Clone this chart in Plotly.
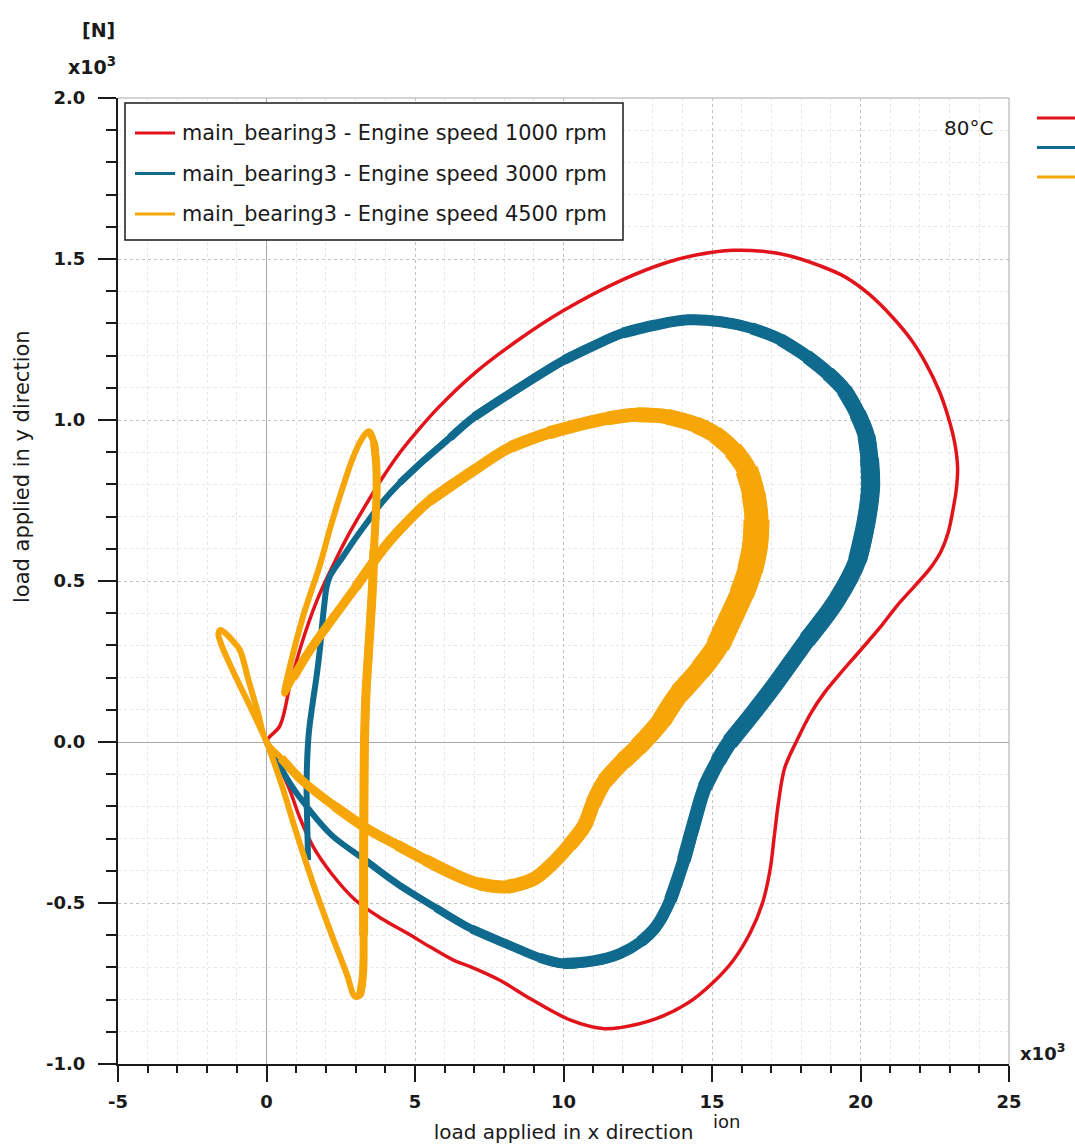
import plotly.graph_objects as go

# Load orbit of main bearing 3 at 80 degC, both axes in units of 10^3 N
red_x = [0, 0.45, 0.8, 1.2, 1.7, 2.3, 2.8, 3.4, 3.9, 4.5, 5.1, 5.8, 7.0, 8.5, 10.0, 12.0, 13.5, 14.5,
         15.7, 16.7, 17.6, 18.6, 19.45, 20.3, 21.07, 21.7, 22.2, 22.65, 22.95, 23.17, 23.27, 23.22,
         23.15, 22.95, 22.7, 22.35, 21.8, 21.2, 20.68, 20.0, 19.32, 18.8, 18.33, 17.86, 17.45,
         17.25, 17.1, 16.95, 16.7, 16.3, 15.7, 15.0, 14.2, 13.1, 11.9, 11.31, 10.24, 8.93, 7.86,
         6.9, 6.31, 5.5, 4.76, 3.9, 2.98, 2.2, 1.57, 1.1, 0.785, 0.4, 0]
red_y = [0, 0.05, 0.18, 0.31, 0.44, 0.56, 0.65, 0.745, 0.82, 0.9, 0.968, 1.04, 1.145, 1.25, 1.34,
         1.436, 1.49, 1.513, 1.527, 1.524, 1.51, 1.48, 1.446, 1.39, 1.32, 1.25, 1.176, 1.09, 1.01,
         0.93, 0.85, 0.78, 0.74, 0.65, 0.59, 0.54, 0.482, 0.42, 0.358, 0.285, 0.213, 0.155, 0.09,
         0.005, -0.08, -0.18, -0.29, -0.4, -0.5, -0.59, -0.68, -0.75, -0.81, -0.86, -0.887, -0.89,
         -0.864, -0.80, -0.74, -0.699, -0.678, -0.636, -0.595, -0.55, -0.49, -0.41, -0.325, -0.23,
         -0.149, -0.07, 0]

blue_x = [0, 0.34, 0.8, 1.35, 2.2, 3.3, 4.4, 5.7, 6.9, 8.33, 9.2, 10.0, 11.0, 11.9, 12.6, 13.1,
          13.6, 14.05, 14.4, 14.76, 15.2, 15.6, 16.3, 17.07, 18.2, 19.2, 19.9, 20.2, 20.34, 20.3,
          20.2, 19.9, 19.45, 18.9, 18.2, 17.3, 16.33, 15.3, 14.2, 13.1, 12.0, 11.0, 10.04, 8.5,
          7.0, 6.18, 5.3, 4.49, 3.9, 3.37, 2.9, 2.58, 2.3, 2.13, 2.02, 1.95, 1.88, 1.8, 1.68, 1.57,
          1.45, 1.4, 1.35, 1.37, 1.4]
blue_y = [0, -0.056, -0.13, -0.2, -0.29, -0.365, -0.44, -0.515, -0.58, -0.637, -0.67, -0.688,
          -0.68, -0.657, -0.62, -0.575, -0.49, -0.367, -0.25, -0.14, -0.06, 0.0, 0.08, 0.172,
          0.317, 0.441, 0.565, 0.689, 0.793, 0.88, 0.95, 1.02, 1.093, 1.145, 1.197, 1.25, 1.285,
          1.305, 1.311, 1.295, 1.27, 1.23, 1.187, 1.1, 1.01, 0.945, 0.875, 0.805, 0.745, 0.68, 0.62,
          0.576, 0.54, 0.514, 0.48, 0.43, 0.37, 0.29, 0.2, 0.131, 0.05, 0.0, -0.128, -0.25, -0.367]

orange_x = [0, -0.5, -1.0, -1.35, -1.55, -1.62, -1.55, -1.35, -1.1, -0.9, -0.6, -0.3, 0, 0.5,
            1.19, 2.3, 3.4, 4.4, 5.36, 6.3, 7.14, 8.1, 9.0, 9.6, 10.2, 10.7, 11.0, 11.4, 12.0,
            12.5, 13.3, 13.9, 14.6, 15.2, 15.6, 16.0, 16.28, 16.45, 16.5, 16.4, 16.17, 15.7, 15.1,
            14.46, 13.5, 12.47, 11.5, 10.73, 9.5, 8.24, 7.0, 5.5, 4.7, 3.93, 3.0, 2.2, 1.5, 0.9,
            0.6, 0.785, 1.23, 1.8, 2.13, 2.6, 2.9, 3.2, 3.45, 3.62, 3.7, 3.7, 3.62, 3.55, 3.45,
            3.35, 3.3, 3.28, 3.27, 3.27, 3.25, 3.15, 2.98, 2.7, 2.2, 1.57, 1.0, 0.5, 0]
orange_y = [0, 0.1, 0.195, 0.265, 0.31, 0.335, 0.348, 0.335, 0.31, 0.286, 0.19, 0.095, 0, -0.05,
            -0.119, -0.2, -0.27, -0.32, -0.367, -0.41, -0.44, -0.45, -0.425, -0.38, -0.32, -0.26,
            -0.19, -0.12, -0.06, -0.016, 0.067, 0.151, 0.224, 0.3, 0.379, 0.46, 0.534, 0.61, 0.69,
            0.77, 0.845, 0.907, 0.955, 0.985, 1.01, 1.016, 1.005, 0.99, 0.96, 0.917, 0.845, 0.75,
            0.68, 0.6, 0.48, 0.38, 0.29, 0.2, 0.15, 0.234, 0.39, 0.55, 0.66, 0.8, 0.88, 0.94, 0.965,
            0.93, 0.85, 0.75, 0.6, 0.45, 0.3, 0.15, 0.0, -0.2, -0.4, -0.6, -0.72, -0.785, -0.79,
            -0.72, -0.6, -0.44, -0.28, -0.13, 0]

series_names = [
    "main_bearing3 - Engine speed 1000 rpm",
    "main_bearing3 - Engine speed 3000 rpm",
    "main_bearing3 - Engine speed 4500 rpm",
]

x_ticks = [-5, 0, 5, 10, 15, 20, 25]
x_labels = ["-5", "0", "5", "10", "15", "20", "25"]
y_ticks = [-1.0, -0.5, 0.0, 0.5, 1.0, 1.5, 2.0]
y_labels = ["-1.0", "-0.5", "0.0", "0.5", "1.0", "1.5", "2.0"]

RED, BLUE, ORANGE = "#e1141c", "#0f6a8d", "#f6a609"
FONT = "Tahoma, DejaVu Sans, sans-serif"
INK = "#1a1a1a"
SMOOTH = 1.0

# Stroke width along each orbit (point index -> px): the band widens where
# successive engine cycles do not overlay exactly.
red_width = [(0, 3.5), (70, 3.5)]
blue_width = [(0, 6), (3, 6), (5, 7), (8, 9), (11, 11), (14, 12), (17, 14), (21, 17), (26, 19),
              (29, 19), (32, 16), (36, 12), (40, 11), (44, 9), (47, 7), (50, 6), (64, 7)]
orange_width = [(0, 6), (12, 6), (13, 9), (15, 10), (18, 12), (21, 14), (24, 15), (27, 17),
                (30, 20), (33, 24), (36, 26), (38, 26), (40, 23), (42, 18), (45, 15), (48, 13),
                (51, 11), (54, 10), (57, 9), (58, 7), (59, 6), (66, 7), (67, 8), (70, 9), (77, 9),
                (79, 8), (80, 7), (86, 6)]

fig = go.Figure()


def width_at(profile, i):
    for (i0, w0), (i1, w1) in zip(profile, profile[1:]):
        if i0 <= i <= i1:
            return w0 + (w1 - w0) * (i - i0) / max(i1 - i0, 1)
    return profile[-1][1]


def add_orbit(xs, ys, color, profile, name):
    """Draw the orbit as nested strokes so its width follows the profile."""
    widths = [width_at(profile, i) for i in range(len(xs))]
    base = min(widths)
    fig.add_trace(go.Scatter(
        x=xs, y=ys, mode="lines", name=name,
        line=dict(color=color, width=base, shape="spline", smoothing=SMOOTH),
        showlegend=False, hoverinfo="skip"))
    level = base + 1
    while level <= max(widths) + 0.01:
        run = []
        for i, w in enumerate(widths + [0]):
            if w >= level - 0.01:
                run.append(i)
            else:
                if len(run) >= 2:
                    fig.add_trace(go.Scatter(
                        x=xs[run[0]:run[-1] + 1], y=ys[run[0]:run[-1] + 1], mode="lines",
                        line=dict(color=color, width=level, shape="spline", smoothing=SMOOTH),
                        showlegend=False, hoverinfo="skip"))
                run = []
        level += 1


add_orbit(red_x, red_y, RED, red_width, series_names[0])
add_orbit(blue_x, blue_y, BLUE, blue_width, series_names[1])
add_orbit(orange_x, orange_y, ORANGE, orange_width, series_names[2])

axis_common = dict(
    ticks="outside", tickwidth=2, tickcolor=INK,
    showline=True, linecolor=INK, linewidth=2,
    showgrid=True, gridcolor="#c2c2c2", gridwidth=1, griddash="dot",
    zeroline=True, zerolinecolor="#a8a8a8", zerolinewidth=1,
    tickfont=dict(family=FONT, size=18, color=INK, weight="bold"),
    automargin=False, fixedrange=True,
)


def px_x(px):
    return (px - 118) / 891.0


def px_y(py):
    return (1064 - py) / 966.0


shapes = [
    # light frame on the open sides of the plot area
    dict(type="line", xref="paper", yref="paper", x0=0, x1=1, y0=1, y1=1,
         line=dict(color="#a8a8a8", width=1)),
    dict(type="line", xref="paper", yref="paper", x0=1, x1=1, y0=0, y1=1,
         line=dict(color="#a8a8a8", width=1)),
    # legend box
    dict(type="rect", xref="paper", yref="paper", x0=px_x(125), x1=px_x(623),
         y0=px_y(240), y1=px_y(103), fillcolor="white", line=dict(color=INK, width=1.5),
         layer="above"),
]
annotations = []
colors = [RED, BLUE, ORANGE]
for k, (name, color) in enumerate(zip(series_names, colors)):
    row = 133 + 40.5 * k
    shapes.append(dict(type="line", xref="paper", yref="paper", x0=px_x(135), x1=px_x(175),
                       y0=px_y(row), y1=px_y(row), line=dict(color=color, width=3),
                       layer="above"))
    annotations.append(dict(text=name, xref="paper", yref="paper", x=px_x(180), y=px_y(row),
                            xanchor="left", yanchor="middle", showarrow=False,
                            font=dict(family=FONT, size=20.8, color=INK)))
    # keys of the neighbouring legend at the right edge
    key_row = 118 + 29.5 * k
    shapes.append(dict(type="line", xref="paper", yref="paper", x0=px_x(1037), x1=px_x(1080),
                       y0=px_y(key_row), y1=px_y(key_row), line=dict(color=color, width=3)))

annotations += [
    dict(text="<b>[N]</b>", xref="paper", yref="paper", x=px_x(117), y=px_y(30),
         xanchor="right", yanchor="middle", showarrow=False,
         font=dict(family=FONT, size=19, color=INK)),
    dict(text="<b>x10<sup>3</sup></b>", xref="paper", yref="paper", x=px_x(118), y=px_y(66),
         xanchor="right", yanchor="middle", showarrow=False,
         font=dict(family=FONT, size=19, color=INK)),
    dict(text="<b>x10<sup>3</sup></b>", xref="paper", yref="paper", x=px_x(1018), y=px_y(1052),
         xanchor="left", yanchor="middle", showarrow=False,
         font=dict(family=FONT, size=18, color=INK)),
    dict(text="80°C", xref="paper", yref="paper", x=px_x(968), y=px_y(128),
         xanchor="center", yanchor="middle", showarrow=False,
         font=dict(family=FONT, size=20, color=INK)),
    dict(text="load applied in y direction", xref="paper", yref="paper", x=px_x(22),
         y=px_y(467), xanchor="center", yanchor="middle", textangle=-90, showarrow=False,
         font=dict(family=FONT, size=21, color=INK)),
    dict(text="ion", xref="paper", yref="paper", x=px_x(726), y=px_y(1121),
         xanchor="center", yanchor="middle", showarrow=False, borderpad=0,
         font=dict(family=FONT, size=18, color=INK)),
]

fig.update_layout(
    width=1075, height=1147,
    margin=dict(l=118, r=66, t=98, b=83),
    paper_bgcolor="white", plot_bgcolor="white",
    font=dict(family=FONT, size=20, color=INK),
    showlegend=False,
    xaxis=dict(
        range=[-5, 25], tickmode="array", tickvals=x_ticks, ticktext=x_labels,
        ticklen=16, ticklabelstandoff=4,
        minor=dict(tickmode="linear", tick0=-5, dtick=1, ticks="outside", ticklen=7,
                   tickwidth=1.5, tickcolor=INK, showgrid=True, gridcolor="#e6e6e6",
                   griddash="dot"),
        title=dict(text="load applied in x direction", standoff=14,
                   font=dict(family=FONT, size=20, color=INK)),
        **axis_common,
    ),
    yaxis=dict(
        range=[-1, 2], tickmode="array", tickvals=y_ticks, ticktext=y_labels,
        ticklen=18, ticklabelstandoff=9,
        minor=dict(tickmode="linear", tick0=-1, dtick=0.1, ticks="outside", ticklen=10,
                   tickwidth=1.5, tickcolor=INK, showgrid=True, gridcolor="#e6e6e6",
                   griddash="dot"),
        **axis_common,
    ),
    shapes=shapes,
    annotations=annotations,
)

fig.write_html("out.html")
